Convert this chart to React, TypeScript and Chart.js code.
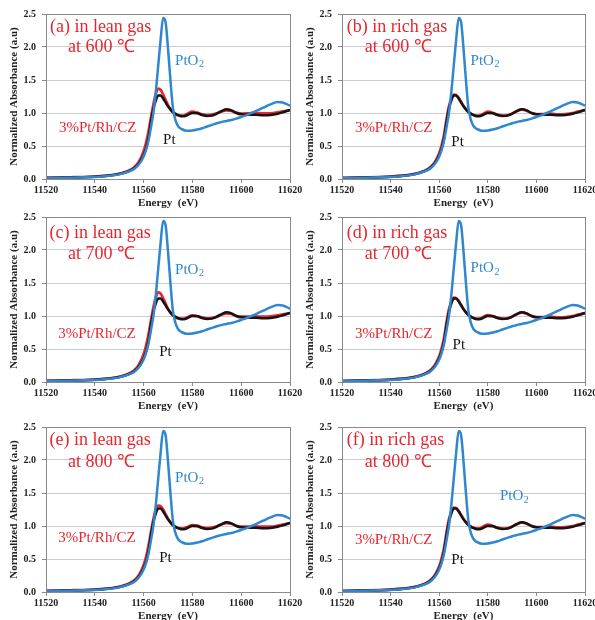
import { useEffect, useRef } from "react";
import { Chart, registerables } from "chart.js";

Chart.register(...registerables);

// ---- data ----
const energy = [
  11520, 11525, 11530, 11535, 11540, 11545, 11550, 11552, 11554, 11556,
  11557, 11558, 11559, 11560, 11561, 11562, 11563, 11564, 11565, 11566,
  11567, 11568, 11569, 11570, 11571, 11572, 11573, 11574, 11575, 11576,
  11577, 11578, 11580, 11582, 11584, 11586, 11588, 11590, 11592, 11594,
  11596, 11598, 11600, 11603, 11606, 11609, 11612, 11615, 11617, 11620,
];

const ptFoil = [
  0.015, 0.018, 0.022, 0.027, 0.035, 0.048, 0.075, 0.095, 0.12, 0.16,
  0.19, 0.23, 0.29, 0.36, 0.46, 0.62, 0.86, 1.06, 1.19, 1.265,
  1.265, 1.22, 1.16, 1.1, 1.055, 1.015, 0.99, 0.97, 0.955, 0.95,
  0.955, 0.97, 1.0, 0.995, 0.97, 0.955, 0.96, 0.99, 1.03, 1.055,
  1.04, 1.0, 0.98, 0.975, 0.975, 0.965, 0.97, 0.99, 1.01, 1.045,
];

const ptO2 = [
  0.015, 0.017, 0.02, 0.025, 0.032, 0.045, 0.07, 0.09, 0.115, 0.15,
  0.18, 0.22, 0.27, 0.34, 0.44, 0.58, 0.78, 1.0, 1.32, 1.72,
  2.12, 2.44, 2.38, 1.98, 1.5, 1.08, 0.9, 0.81, 0.77, 0.75,
  0.735, 0.73, 0.735, 0.75, 0.77, 0.795, 0.82, 0.845, 0.865, 0.88,
  0.895, 0.915, 0.94, 0.98, 1.03, 1.08, 1.13, 1.165, 1.16, 1.11,
];

const sampleLean600 = [
  0.02, 0.022, 0.026, 0.03, 0.038, 0.052, 0.08, 0.1, 0.13, 0.175,
  0.21, 0.26, 0.33, 0.42, 0.55, 0.72, 0.93, 1.13, 1.29, 1.37,
  1.35, 1.28, 1.2, 1.12, 1.06, 1.01, 0.98, 0.965, 0.96, 0.96,
  0.97, 0.99, 1.02, 1.005, 0.98, 0.97, 0.975, 0.995, 1.025, 1.04,
  1.03, 1.005, 0.99, 0.995, 1.0, 0.995, 0.995, 1.01, 1.025, 1.045,
];

const sampleRich600 = [
  0.018, 0.02, 0.024, 0.029, 0.037, 0.05, 0.078, 0.098, 0.125, 0.168,
  0.2, 0.245, 0.31, 0.39, 0.51, 0.67, 0.9, 1.1, 1.22, 1.28,
  1.27, 1.23, 1.17, 1.11, 1.06, 1.02, 0.99, 0.97, 0.96, 0.96,
  0.965, 0.985, 1.02, 1.005, 0.975, 0.96, 0.965, 0.99, 1.03, 1.05,
  1.035, 1.0, 0.985, 0.985, 0.99, 0.98, 0.985, 1.0, 1.02, 1.045,
];

const sampleLean700 = [
  0.02, 0.022, 0.026, 0.03, 0.038, 0.052, 0.08, 0.1, 0.13, 0.175,
  0.21, 0.26, 0.33, 0.42, 0.55, 0.72, 0.93, 1.13, 1.28, 1.36,
  1.34, 1.27, 1.19, 1.11, 1.05, 1.005, 0.975, 0.965, 0.96, 0.96,
  0.965, 0.98, 1.01, 1.0, 0.975, 0.965, 0.97, 0.99, 1.02, 1.04,
  1.03, 1.0, 0.99, 0.99, 0.995, 0.99, 0.995, 1.01, 1.025, 1.045,
];

const sampleRich700 = [
  0.018, 0.02, 0.024, 0.029, 0.037, 0.05, 0.078, 0.098, 0.125, 0.168,
  0.2, 0.245, 0.31, 0.39, 0.51, 0.67, 0.9, 1.1, 1.22, 1.28,
  1.27, 1.23, 1.17, 1.11, 1.06, 1.02, 0.99, 0.97, 0.96, 0.96,
  0.965, 0.985, 1.015, 1.0, 0.975, 0.96, 0.965, 0.99, 1.03, 1.05,
  1.035, 1.0, 0.985, 0.985, 0.99, 0.98, 0.985, 1.0, 1.02, 1.045,
];

const sampleLean800 = [
  0.02, 0.022, 0.026, 0.03, 0.038, 0.052, 0.08, 0.1, 0.13, 0.172,
  0.205, 0.255, 0.32, 0.41, 0.53, 0.7, 0.91, 1.1, 1.25, 1.31,
  1.3, 1.25, 1.18, 1.11, 1.055, 1.01, 0.98, 0.97, 0.965, 0.965,
  0.97, 0.985, 1.015, 1.005, 0.98, 0.97, 0.975, 0.995, 1.025, 1.045,
  1.035, 1.005, 0.99, 0.99, 0.995, 0.99, 0.99, 1.005, 1.02, 1.045,
];

const sampleRich800 = [
  0.018, 0.02, 0.024, 0.029, 0.037, 0.05, 0.078, 0.098, 0.125, 0.168,
  0.2, 0.245, 0.31, 0.39, 0.51, 0.67, 0.9, 1.1, 1.22, 1.28,
  1.27, 1.23, 1.17, 1.11, 1.06, 1.02, 0.99, 0.975, 0.965, 0.965,
  0.97, 0.99, 1.02, 1.005, 0.975, 0.96, 0.965, 0.99, 1.03, 1.05,
  1.035, 1.0, 0.985, 0.985, 0.99, 0.98, 0.985, 1.0, 1.02, 1.045,
];

const xTickValues = [11520, 11540, 11560, 11580, 11600, 11620];
const yTickValues = [0, 0.5, 1.0, 1.5, 2.0, 2.5];

const panelTitles = [
  "(a) in lean gas", "(b) in rich gas",
  "(c) in lean gas", "(d) in rich gas",
  "(e) in lean gas", "(f) in rich gas",
];
const panelTemps = ["at 600 ℃", "at 600 ℃", "at 700 ℃", "at 700 ℃", "at 800 ℃", "at 800 ℃"];
const panelSamples = [sampleLean600, sampleRich600, sampleLean700, sampleRich700, sampleLean800, sampleRich800];
const sampleName = "3%Pt/Rh/CZ";
const foilName = "Pt";

// ---- styling / layout ----
const BLUE = "#2e87cf";
const RED = "#e8262e";
const BLACK = "#141414";
const SERIF = "'Liberation Serif', 'Times New Roman', serif";

// label anchor points, in data coordinates [energy, absorbance]
const labelPos = [
  { title: [11521.6, 2.3], temp: [11529, 2.0], ptO2: [11572.9, 1.79], sample: [11525.3, 0.77], pt: [11568, 0.59] },
  { title: [11522, 2.3], temp: [11529.4, 2.0], ptO2: [11572.9, 1.79], sample: [11525.3, 0.77], pt: [11565, 0.56] },
  { title: [11521.4, 2.26], temp: [11529, 1.94], ptO2: [11572.9, 1.7], sample: [11525, 0.73], pt: [11566.4, 0.45] },
  { title: [11522, 2.26], temp: [11529.4, 1.94], ptO2: [11572.9, 1.72], sample: [11525.3, 0.73], pt: [11565.5, 0.56] },
  { title: [11521.4, 2.3], temp: [11529, 1.97], ptO2: [11572.9, 1.73], sample: [11525, 0.82], pt: [11566.4, 0.52] },
  { title: [11522, 2.3], temp: [11529.4, 1.97], ptO2: [11585, 1.45], sample: [11525.3, 0.79], pt: [11565, 0.48] },
];

const columns = [
  { left: 0, width: 310, padRight: 20 },
  { left: 296, width: 304, padRight: 15 },
];
const rowTops = [0, 203, 413];
const CANVAS_H = 210;

const boxPlugin = {
  id: "plotBox",
  afterDatasetsDraw(chart: any) {
    const { ctx, chartArea } = chart;
    ctx.save();
    ctx.strokeStyle = "#8a8a8a";
    ctx.lineWidth = 1;
    ctx.strokeRect(
      Math.round(chartArea.left) + 0.5,
      Math.round(chartArea.top) + 0.5,
      Math.round(chartArea.right - chartArea.left),
      Math.round(chartArea.bottom - chartArea.top)
    );
    ctx.restore();
  },
};

function makeLabelPlugin(idx: number) {
  return {
    id: "panelLabels",
    afterDraw(chart: any) {
      const { ctx } = chart;
      const xs = chart.scales.x;
      const ys = chart.scales.y;
      const p = labelPos[idx];
      const px = (pt: number[]) => [xs.getPixelForValue(pt[0]), ys.getPixelForValue(pt[1])];
      ctx.save();
      ctx.textAlign = "left";
      ctx.textBaseline = "middle";
      const draw = (text: string, pt: number[], size: number, color: string) => {
        const [x, y] = px(pt);
        ctx.font = `${size}px ${SERIF}`;
        ctx.fillStyle = color;
        ctx.fillText(text, x, y);
      };
      draw(panelTitles[idx], p.title, 18, RED);
      draw(panelTemps[idx], p.temp, 18, RED);
      draw(sampleName, p.sample, 15, RED);
      draw(foilName, p.pt, 15, BLACK);
      // PtO2 with subscript
      const [ox, oy] = px(p.ptO2);
      ctx.font = `15px ${SERIF}`;
      ctx.fillStyle = BLUE;
      ctx.fillText("PtO", ox, oy);
      const w = ctx.measureText("PtO").width;
      ctx.font = `10px ${SERIF}`;
      ctx.fillText("2", ox + w + 0.5, oy + 4);
      ctx.restore();
    },
  };
}

function Panel({ idx }: { idx: number }) {
  const ref = useRef<HTMLCanvasElement>(null);
  const col = columns[idx % 2];
  const top = rowTops[Math.floor(idx / 2)];

  useEffect(() => {
    const canvas = ref.current!;
    const toPts = (ys: number[]) => energy.map((x, i) => ({ x, y: ys[i] }));
    const tickFont = { family: SERIF, size: 10, weight: "bold" as const };
    const titleFont = { family: SERIF, size: 11, weight: "bold" as const };
    const chart = new Chart(canvas, {
      type: "line",
      data: {
        datasets: [
          {
            label: "PtO2",
            data: toPts(ptO2),
            borderColor: BLUE,
            borderWidth: 2.5,
            pointRadius: 0,
            cubicInterpolationMode: "monotone",
          },
          {
            label: foilName,
            data: toPts(ptFoil),
            borderColor: BLACK,
            borderWidth: 2.5,
            pointRadius: 0,
            cubicInterpolationMode: "monotone",
          },
          {
            label: sampleName,
            data: toPts(panelSamples[idx]),
            borderColor: RED,
            borderWidth: 2.7,
            pointRadius: 0,
            cubicInterpolationMode: "monotone",
          },
        ],
      },
      options: {
        responsive: false,
        animation: false,
        events: [],
        layout: { padding: { top: 14, right: col.padRight, left: 0, bottom: 0 } },
        plugins: { legend: { display: false }, tooltip: { enabled: false } },
        scales: {
          x: {
            type: "linear",
            min: 11520,
            max: 11620,
            afterBuildTicks: (s: any) => {
              s.ticks = xTickValues.map((v) => ({ value: v }));
            },
            afterFit: (s: any) => {
              s.height = 31;
            },
            ticks: {
              font: tickFont,
              color: "#222",
              padding: 1,
              maxRotation: 0,
              autoSkip: false,
              callback: (v: any) => String(v),
            },
            grid: { drawOnChartArea: false, tickLength: 4, color: "#8a8a8a" },
            border: { color: "#8a8a8a" },
            title: { display: true, text: "Energy  (eV)", font: titleFont, color: "#222", padding: 0 },
          },
          y: {
            type: "linear",
            min: 0,
            max: 2.5,
            afterBuildTicks: (s: any) => {
              s.ticks = yTickValues.map((v) => ({ value: v }));
            },
            afterFit: (s: any) => {
              s.width = 46;
            },
            ticks: {
              font: tickFont,
              color: "#222",
              padding: 6,
              callback: (v: any) => Number(v).toFixed(1),
            },
            grid: { color: "#cccccc", tickColor: "#8a8a8a", tickLength: 4 },
            border: { color: "#8a8a8a" },
            title: {
              display: true,
              text: "Normalized Absorbance (a.u)",
              font: titleFont,
              color: "#222",
              padding: { top: 8, bottom: 0 },
            },
          },
        },
      },
      plugins: [boxPlugin, makeLabelPlugin(idx)],
    } as any);
    return () => chart.destroy();
  }, [idx]);

  return (
    <canvas
      ref={ref}
      width={col.width}
      height={CANVAS_H}
      style={{ position: "absolute", left: col.left, top, width: col.width, height: CANVAS_H }}
    />
  );
}

export default function App() {
  return (
    <div
      style={{
        position: "absolute",
        left: 0,
        top: 0,
        width: 595,
        height: 620,
        overflow: "hidden",
        background: "#fff",
      }}
    >
      {panelTitles.map((_, i) => (
        <Panel key={i} idx={i} />
      ))}
    </div>
  );
}
